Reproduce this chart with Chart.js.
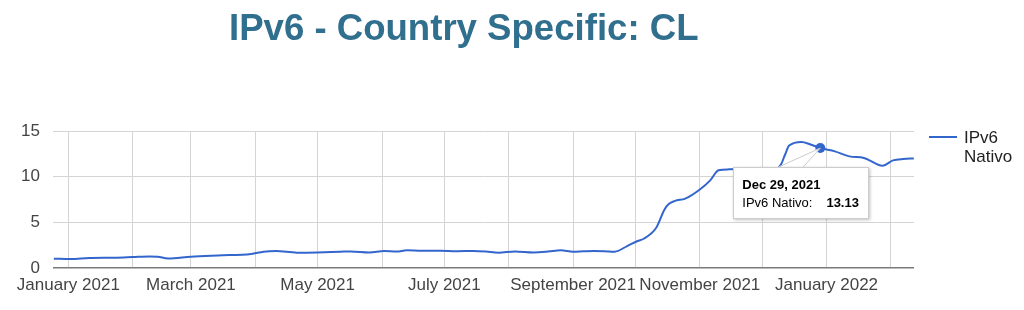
<!DOCTYPE html>
<html>
<head>
<meta charset="utf-8">
<script src="https://cdn.jsdelivr.net/npm/chart.js@4/dist/chart.umd.min.js"></script>
<style>
  html, body { margin:0; padding:0; background:#fff; }
  #wrap { position:relative; width:1024px; height:310px; overflow:hidden; font-family: Arial, "Liberation Sans", sans-serif; }
  #c { position:absolute; left:0; top:0; }
  #title { position:absolute; left:229px; top:9.5px; line-height:36px; font-size:36.6px; font-weight:bold; color:#306f8e; white-space:nowrap; }
  #legline { position:absolute; left:929px; top:135.5px; width:28px; height:2px; background:#3366cc; }
  #legtext { position:absolute; left:964px; top:127.7px; font-size:17px; line-height:19.5px; color:#222; }
  #tt { position:absolute; background:#fff; border:1px solid #ccc; box-shadow:1px 1px 3px rgba(0,0,0,0.25); width:126px; padding:7.5px 0 6.5px 8px; font-size:13px; line-height:18px; color:#000; white-space:nowrap; z-index:3; display:none; }
  #ttcall { position:absolute; left:0; top:0; z-index:2; display:none; }
</style>
</head>
<body>
<div id="wrap">
  <canvas id="c" width="1024" height="310"></canvas>
  <div id="title">IPv6 - Country Specific: CL</div>
  <div id="legline"></div>
  <div id="legtext">IPv6<br>Nativo</div>
  <svg id="ttcall" width="1024" height="310"><polygon id="ttpoly" points="" fill="#fff" stroke="#ccc" stroke-width="1"/></svg>
  <div id="tt"></div>
</div>
<script>
// ---- data ----
const seriesName = 'IPv6 Nativo';
const dates = [
  '2020-12-25','2021-01-02','2021-01-11','2021-01-24','2021-02-01','2021-02-09','2021-02-13','2021-02-18',
  '2021-03-01','2021-03-14','2021-03-30','2021-04-05','2021-04-11','2021-04-21','2021-05-01','2021-05-12',
  '2021-05-17','2021-05-26','2021-06-02','2021-06-08','2021-06-13','2021-06-20','2021-06-29','2021-07-07',
  '2021-07-15','2021-07-21','2021-07-27','2021-08-04','2021-08-13','2021-08-20','2021-08-26','2021-09-01',
  '2021-09-06','2021-09-11','2021-09-16','2021-09-21','2021-09-27','2021-10-02','2021-10-05','2021-10-11',
  '2021-10-15','2021-10-17','2021-10-20','2021-10-25','2021-11-01','2021-11-06','2021-11-10','2021-11-15',
  '2021-12-01','2021-12-08','2021-12-10','2021-12-12','2021-12-14','2021-12-20','2021-12-24','2021-12-29',
  '2022-01-05','2022-01-12','2022-01-19','2022-01-28','2022-02-02','2022-02-07','2022-02-12'
];
const values = [
  1.02, 0.98, 1.09, 1.13, 1.20, 1.27, 1.24, 1.05,
  1.24, 1.38, 1.53, 1.79, 1.86, 1.68, 1.71, 1.79,
  1.82, 1.71, 1.86, 1.80, 1.93, 1.88, 1.89, 1.84,
  1.86, 1.80, 1.68, 1.82, 1.71, 1.80, 1.93, 1.79,
  1.83, 1.86, 1.84, 1.79, 2.40, 2.96, 3.20, 4.40,
  6.40, 7.00, 7.35, 7.60, 8.60, 9.60, 10.70, 10.80,
  10.85, 10.90, 11.30, 12.40, 13.40, 13.80, 13.55, 13.13,
  12.77, 12.22, 12.05, 11.20, 11.78, 11.94, 12.00
];
const tickDates = ['2021-01-01','2021-02-01','2021-03-01','2021-04-01','2021-05-01','2021-06-01','2021-07-01',
  '2021-08-01','2021-09-01','2021-10-01','2021-11-01','2021-12-01','2022-01-01','2022-02-01'];
const tickLabels = ['January 2021','','March 2021','','May 2021','','July 2021','',
  'September 2021','','November 2021','','January 2022',''];
const yTicks = [0, 5, 10, 15];
const rangeStart = '2020-12-24';
const rangeEnd = '2022-02-13';
const highlightDate = '2021-12-29';

// ---- helpers ----
const ORIGIN = Date.UTC(2021, 0, 1);
function dayNum(s) { const p = s.split('-').map(Number); return (Date.UTC(p[0], p[1]-1, p[2]) - ORIGIN) / 86400000; }
const MONTHS = ['Jan','Feb','Mar','Apr','May','Jun','Jul','Aug','Sep','Oct','Nov','Dec'];
function fmtDate(s) { const p = s.split('-').map(Number); return MONTHS[p[1]-1] + ' ' + p[2] + ', ' + p[0]; }

const points = dates.map((d, i) => ({ x: dayNum(d), y: values[i] }));
const tickVals = tickDates.map(dayNum);

function externalTooltip(ctx) {
  const tt = document.getElementById('tt');
  const call = document.getElementById('ttcall');
  const t = ctx.tooltip;
  if (!t || t.opacity === 0 || !t.dataPoints || !t.dataPoints.length) { tt.style.display = 'none'; call.style.display = 'none'; return; }
  const dp = t.dataPoints[0];
  const d = dates[dp.dataIndex];
  tt.innerHTML = '<div style="font-weight:bold">' + fmtDate(d) + '</div>' +
    '<div>' + seriesName + ':<span style="font-weight:bold;margin-left:14px">' + values[dp.dataIndex].toFixed(2) + '</span></div>';
  const cx = dp.element.x, cy = dp.element.y;
  tt.style.left = (cx - 87) + 'px';
  tt.style.top = (cy + 19) + 'px';
  tt.style.display = 'block';
  document.getElementById('ttpoly').setAttribute('points',
    (cx - 44) + ',' + (cy + 20) + ' ' + cx + ',' + cy + ' ' + (cx - 18) + ',' + (cy + 20));
  call.style.display = 'block';
}

const chart = new Chart(document.getElementById('c'), {
  type: 'line',
  data: {
    datasets: [{
      label: seriesName,
      data: points,
      borderColor: '#3366cc',
      borderWidth: 2,
      pointRadius: 0,
      pointHoverRadius: 5,
      pointHoverBorderWidth: 0,
      pointHoverBackgroundColor: '#3366cc',
      pointBackgroundColor: '#3366cc',
      cubicInterpolationMode: 'monotone',
      fill: false
    }]
  },
  options: {
    responsive: false,
    animation: false,
    events: [],
    layout: { padding: { top: 131, right: 110, left: 0, bottom: 0 } },
    plugins: {
      legend: { display: false },
      title: { display: false },
      tooltip: { enabled: false, external: externalTooltip, mode: 'nearest', intersect: false }
    },
    scales: {
      x: {
        type: 'linear',
        min: dayNum(rangeStart) + 0.6,
        max: dayNum(rangeEnd) - 0.9,
        afterBuildTicks: (s) => { s.ticks = tickVals.map(v => ({ value: v })); },
        afterFit: (s) => { s.height = 42; },
        grid: { color: '#d4d4d4', lineWidth: 1, drawTicks: false },
        border: { display: false },
        ticks: {
          autoSkip: false,
          maxRotation: 0,
          padding: 7,
          color: '#444',
          font: { family: 'Arial, "Liberation Sans"', size: 17 },
          callback: (v, i) => tickLabels[i]
        }
      },
      y: {
        min: 0,
        max: 15,
        afterBuildTicks: (s) => { const arr = []; for (let v = 0; v <= 15; v += 2.5) arr.push({ value: v }); s.ticks = arr; },
        afterFit: (s) => { s.width = 53; },
        grid: {
          drawTicks: false,
          color: (c) => c.tick.value === 0 ? '#7a7a7a' : (yTicks.includes(c.tick.value) ? '#d4d4d4' : '#ececec'),
          lineWidth: (c) => c.tick.value === 0 ? 1.5 : 1
        },
        border: { display: false },
        ticks: {
          padding: 13,
          color: '#444',
          font: { family: 'Arial, "Liberation Sans"', size: 17 },
          callback: (v) => yTicks.includes(v) ? String(v) : ''
        }
      }
    }
  }
});

const hi = dates.indexOf(highlightDate);
chart.setActiveElements([{ datasetIndex: 0, index: hi }]);
const el = chart.getDatasetMeta(0).data[hi];
chart.tooltip.setActiveElements([{ datasetIndex: 0, index: hi }], { x: el.x, y: el.y });
chart.update();
</script>
</body>
</html>
